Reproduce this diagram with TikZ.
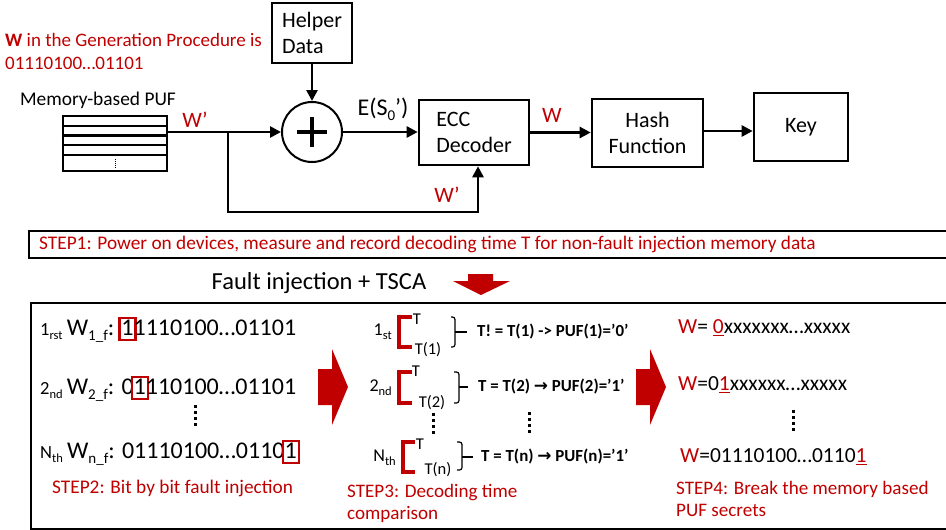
\documentclass[tikz,border=0pt]{standalone}
\usepackage{fontspec}
\setmainfont{Carlito}
\newfontfamily\dejavu{DejaVu Sans}
\usetikzlibrary{arrows.meta}
\definecolor{myred}{HTML}{C00000}
\newcommand\fs[1]{\fontsize{#1}{#1}\selectfont}
\newcommand\sbx[2]{\raisebox{-0.22em}{\fs{#1}#2}}
\newlength\rbw
\newcommand\rbx[1]{{\settowidth\rbw{#1}\setlength\fboxsep{0.8pt}\setlength\fboxrule{2.2pt}\color{myred}\makebox[\rbw]{\fbox{\rule[-3pt]{0pt}{18.5pt}\color{black}#1}}}}
\newcommand\rul[1]{\textcolor{myred}{\underline{#1}}}
\begin{document}
\begin{tikzpicture}[x=1pt,y=-1pt,
 blk/.style={draw,line width=2.6pt,inner sep=0pt,font=\fontsize{22}{26}\selectfont,align=center},
 conn/.style={line width=2.6pt,-{Triangle[length=11pt,width=11pt]}},
 plain/.style={inner sep=0pt},
 rlab/.style={inner sep=0pt,text=myred,font=\fs{22}},
 dotsv/.style={line width=3pt,dash pattern=on 3pt off 3pt},
 brk/.style={draw=myred,line width=3.5pt,miter limit=10},
 brc/.style={line width=1.2pt,rounded corners=2.5pt},
 small/.style={inner sep=0pt,font=\fs{16.5}},
 bold/.style={inner sep=0pt,anchor=west,font=\bfseries\fs{16.9}},
 lab/.style={inner sep=0pt,anchor=east,font=\fs{18}},
 redtxt/.style={inner sep=0pt,text=myred,anchor=north west,align=left,font=\fontsize{19.1}{22.5}\selectfont},
 wrow/.style={inner sep=0pt,anchor=west,font=\fs{21.5}}]
\useasboundingbox (0,0) rectangle (946,530);

% ---------- top block diagram ----------
\node[blk,minimum width=80pt,minimum height=60pt,align=left] (helper) at (312,33) {Helper\\Data};
\node[draw,circle,line width=2pt,minimum size=60pt,inner sep=0pt] (sum) at (312,132) {};
\draw[line width=4.5pt] ([xshift=-15pt]sum.center) -- ([xshift=15pt]sum.center)
  ([yshift=-15pt]sum.center) -- ([yshift=15pt]sum.center);
\node[blk,minimum width=110pt,minimum height=65pt,align=left] (ecc) at (474,132.5) {ECC\\Decoder};
\node[blk,minimum width=111pt,minimum height=68pt] (hash) at (647.5,133) {Hash\\Function};
\node[blk,minimum width=94pt,minimum height=68pt] (key) at (801,127) {Key};

\node[draw,line width=2.8pt,minimum width=104pt,minimum height=55pt,inner sep=0pt] (mem) at (115,143.5) {};
\foreach \yy in {126,135.5,145,155} \draw[line width=2.6pt] (mem.west |- 0,\yy) -- (mem.east |- 0,\yy);
\draw[line width=1pt,dash pattern=on 1pt off 1pt] (115,159) -- (115,169);

\node[plain,font=\fs{19.4}] (memlbl) at (98,100) {Memory-based PUF};
\node[rlab] (wp1) at (195,120) {W’};
\node[plain,font=\fs{24}] (es) at (383,109) {E(S\sbx{15}{0}’)};
\node[rlab] (w1) at (552,115) {W};
\node[rlab] (wp2) at (447,195) {W’};
\node[plain,text=myred,font=\fontsize{19}{23}\selectfont,align=left,anchor=north west] (gen) at (5,33)
  {\textbf{W} in the Generation Procedure is\\01110100…01101};

\draw[conn] (helper.south) -- (sum.north);
\draw[conn] (mem.east |- sum.west) -- (sum.west);
\coordinate (br) at (228,132);
\draw[conn] (br) -- ++(0,80) -| ([xshift=4pt]ecc.south);
\draw[conn] (sum.east) -- (sum.east -| ecc.west);
\draw[conn] (ecc.east) -- (ecc.east -| hash.west);
\draw[conn] ([yshift=2pt]hash.east) -- ([yshift=2pt]hash.east -| key.west);

% ---------- step 1 ----------
\node[draw,line width=1.6pt,anchor=west,minimum width=922pt,minimum height=27pt,inner sep=0pt] (s1box) at (28,244.5) {};
\node[plain,anchor=west,text=myred,font=\fs{19.3}] (s1txt) at (39,244.5)
  {STEP1: Power on devices, measure and record decoding time T for non-fault injection memory data};
\node[plain,font=\fs{24.5}] (fi) at (319,283) {Fault injection + TSCA};
\fill[myred] (468,274) -- (493,274) -- (493,281) -- (510,281) -- (481,295) -- (453,281) -- (468,281) -- cycle;

% ---------- bottom box ----------
\node[draw,line width=2pt,anchor=north west,minimum width=925pt,minimum height=226pt,inner sep=0pt] (bot) at (30,302) {};

% left: step 2
\node[plain,anchor=base west] (r1) at (40,335) {\fs{18.5}1\sbx{12.5}{rst} \fs{24}W\sbx{15}{1\_f}: \rbx{1}1110100…01101};
\node[plain,anchor=base west] (r2) at (40,394) {\fs{18.5}2\sbx{12.5}{nd} \fs{24}W\sbx{15}{2\_f}: 0\rbx{1}110100…01101};
\node[plain,anchor=base west] (r3) at (40,458) {\fs{18.5}N\sbx{12.5}{th} \fs{24}W\sbx{15}{n\_f}: 01110100…0110\rbx{1}};
\draw[dotsv] (195,405) -- (195,427);
\node[plain,anchor=west,text=myred,font=\fs{19.3}] (s2) at (52,488) {STEP2: Bit by bit fault injection};

\fill[myred] (318,369) -- (332,369) -- (332,349) -- (348,387) -- (332,425) -- (332,405) -- (318,405) -- cycle;
\fill[myred] (636,369) -- (650,369) -- (650,349) -- (666,387) -- (650,425) -- (650,405) -- (636,405) -- cycle;

% middle: step 3
\node[lab] (m1) at (392,332) {1\sbx{12.5}{st}};
\draw[brk] (412,317) -- (399,317) -- (399,347) -- (412,347);
\node[small] (m1a) at (417,319) {T};
\node[small] (m1b) at (428,350) {T(1)};
\draw[brc] (451,317) -- (455,317) -- (455,347) -- (451,347);
\draw[line width=1.2pt] (455,332) -- (467,332);
\node[bold] (m1r) at (477,332) {T! = T(1) -> PUF(1)=’0’};

\node[lab] (m2) at (392,388) {2\sbx{12.5}{nd}};
\draw[brk] (412,372) -- (399,372) -- (399,403) -- (412,403);
\node[small] (m2a) at (416,371) {T};
\node[small] (m2b) at (432,403) {T(2)};
\draw[brc] (454,372) -- (459,372) -- (459,403) -- (454,403);
\draw[line width=1.2pt] (459,387) -- (468,387);
\node[bold] (m2r) at (478,387) {T = T(2) {\dejavu\bfseries →} PUF(2)=’1’};

\node[lab] (m3) at (396,458) {N\sbx{12.5}{th}};
\draw[brk] (415,442) -- (403,442) -- (403,472) -- (415,472);
\node[small] (m3a) at (420,444) {T};
\node[small] (m3b) at (438,470) {T(n)};
\draw[brc] (457,442) -- (462,442) -- (462,470) -- (457,470);
\draw[line width=1.2pt] (462,457) -- (473,457);
\node[bold] (m3r) at (481,457) {T = T(n) {\dejavu\bfseries →} PUF(n)=’1’};

\draw[dotsv] (433,413) -- (433,435);
\draw[dotsv] (529,412) -- (529,434);
\node[redtxt] (s3) at (347,484) {STEP3: Decoding time\\comparison};

% right: step 4
\node[wrow] (w1r) at (678,328) {\textcolor{myred}{W}= \rul{0}xxxxxxx…xxxxx};
\node[wrow] (w2r) at (678,385) {\textcolor{myred}{W}=0\rul{1}xxxxxx…xxxxx};
\draw[dotsv] (793,410) -- (793,432);
\node[wrow] (w3r) at (680,457) {\textcolor{myred}{W}=01110100…0110\rul{1}};
\node[redtxt] (s4) at (676,481) {STEP4: Break the memory based\\PUF secrets};
\end{tikzpicture}
\end{document}
